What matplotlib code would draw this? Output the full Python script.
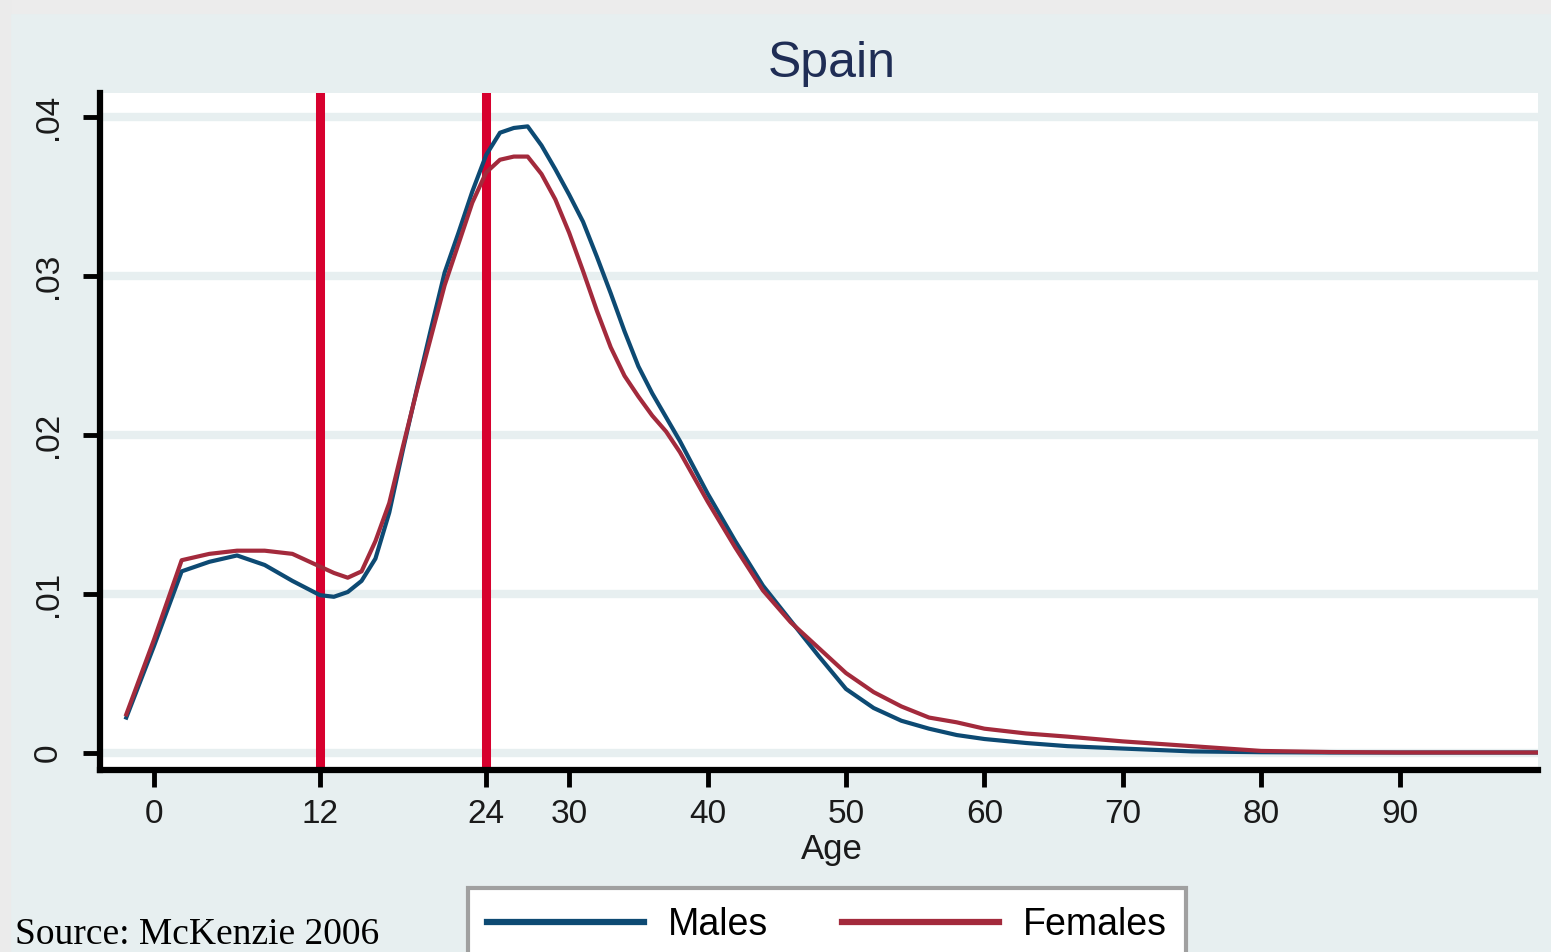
import numpy as np
import matplotlib
matplotlib.use('Agg')
import matplotlib.pyplot as plt
from matplotlib.lines import Line2D
from matplotlib.patches import Rectangle

plt.rcParams['font.family'] = ['Liberation Sans', 'DejaVu Sans']

# age-specific migration densities
age = [-2, 0, 2, 4, 6, 8, 10, 12, 13, 14, 15, 16, 17, 18, 19, 20, 21, 22, 23, 24,
       25, 26, 27, 28, 29, 30, 31, 32, 33, 34, 35, 36, 37, 38, 40, 42, 44, 46, 48,
       50, 52, 54, 56, 58, 60, 63, 66, 70, 75, 80, 85, 90, 95, 100]
males = [0.0022, 0.0067, 0.0114, 0.0120, 0.0124, 0.0118, 0.0108, 0.0099, 0.0098,
         0.0101, 0.0108, 0.0122, 0.0151, 0.0191, 0.0229, 0.0266, 0.0302, 0.0327,
         0.0353, 0.0376, 0.0390, 0.0393, 0.0394, 0.0382, 0.0367, 0.0351, 0.0334,
         0.0312, 0.0289, 0.0265, 0.0243, 0.0226, 0.0211, 0.0196, 0.0163, 0.0133,
         0.0105, 0.0083, 0.0061, 0.0040, 0.0028, 0.0020, 0.0015, 0.0011, 0.00085,
         0.0006, 0.0004, 0.00025, 0.00007, 0.00002, 0.0, 0.0, 0.0, 0.0]
females = [0.0024, 0.0071, 0.0121, 0.0125, 0.0127, 0.0127, 0.0125, 0.0117, 0.0113,
           0.0110, 0.0114, 0.0133, 0.0157, 0.0193, 0.0228, 0.0261, 0.0294, 0.0320,
           0.0346, 0.0365, 0.0373, 0.0375, 0.0375, 0.0364, 0.0348, 0.0327, 0.0303,
           0.0278, 0.0255, 0.0237, 0.0224, 0.0212, 0.0202, 0.0189, 0.0158, 0.0129,
           0.0102, 0.0082, 0.0066, 0.0050, 0.0038, 0.0029, 0.0022, 0.0019, 0.0015,
           0.0012, 0.0010, 0.0007, 0.0004, 0.0001, 0.00003, 0.0, 0.0, 0.0]
cutoffs = [12, 24]

xticks = [0, 12, 24, 30, 40, 50, 60, 70, 80, 90]
yticks = [0, 0.01, 0.02, 0.03, 0.04]
ylabels = ['0', '.01', '.02', '.03', '.04']

bg = '#e7eff0'
blue = '#0d4a73'
maroon = '#a32a3c'
red = '#d7002e'

W, H = 1551, 952
fig = plt.figure(figsize=(W / 100, H / 100), dpi=100, facecolor=bg)
ax = fig.add_axes([100 / W, 1 - 770 / H, 1438 / W, 677 / H])
ax.set_facecolor('white')

ax.set_yticks(yticks)
ax.set_yticklabels(ylabels, rotation=90, va='center')
ax.set_xticks(xticks)
ax.grid(axis='y', color=bg, lw=6)
ax.set_axisbelow(True)

for c in cutoffs:
    ax.axvline(c, color=red, lw=6.5, zorder=2)

ax.plot(age, males, color=blue, lw=3, zorder=3)
ax.plot(age, females, color=maroon, lw=3, zorder=3)

ax.set_xlim(-3.9, 100)
ax.set_ylim(-0.0011, 0.0415)

for s in ['top', 'right']:
    ax.spines[s].set_visible(False)
for s in ['left', 'bottom']:
    ax.spines[s].set_linewidth(4.5)
ax.tick_params(direction='out', length=12, width=3.5, labelsize=24, pad=9,
               labelcolor='#1a1a1a')
ax.tick_params(axis='y', pad=14)

fig.text(832 / W, 1 - 77 / H, 'Spain', ha='center', va='baseline',
         fontsize=36, color='#1f2d55')
fig.text(832 / W, 1 - 859 / H, 'Age', ha='center', va='baseline', fontsize=25,
         color='#1a1a1a')

handles = [Line2D([], [], color=blue, lw=4.5), Line2D([], [], color=maroon, lw=4.5)]
leg = fig.legend(handles, ['Males', 'Females'], loc='upper left',
                 bbox_to_anchor=(468 / W, 1 - 888 / H), ncol=2, fontsize=27,
                 frameon=True, fancybox=False, edgecolor='#a0a0a0',
                 handlelength=4.2, handletextpad=0.64, columnspacing=1.95,
                 borderpad=0.5, borderaxespad=0)
leg.get_frame().set_linewidth(3)
leg.get_frame().set_alpha(1)

fig.text(15 / W, 1 - 944 / H, 'Source: McKenzie 2006', va='baseline',
         fontsize=27, family='Liberation Serif')

# slide edges
fig.patches.append(Rectangle((0, 1 - 13 / H), 1, 13 / H, transform=fig.transFigure,
                             color='#ececec', zorder=0))
fig.patches.append(Rectangle((0, 0), 10 / W, 1, transform=fig.transFigure,
                             color='#ebebeb', zorder=0))

fig.savefig('out.png', dpi=100, facecolor=bg)
